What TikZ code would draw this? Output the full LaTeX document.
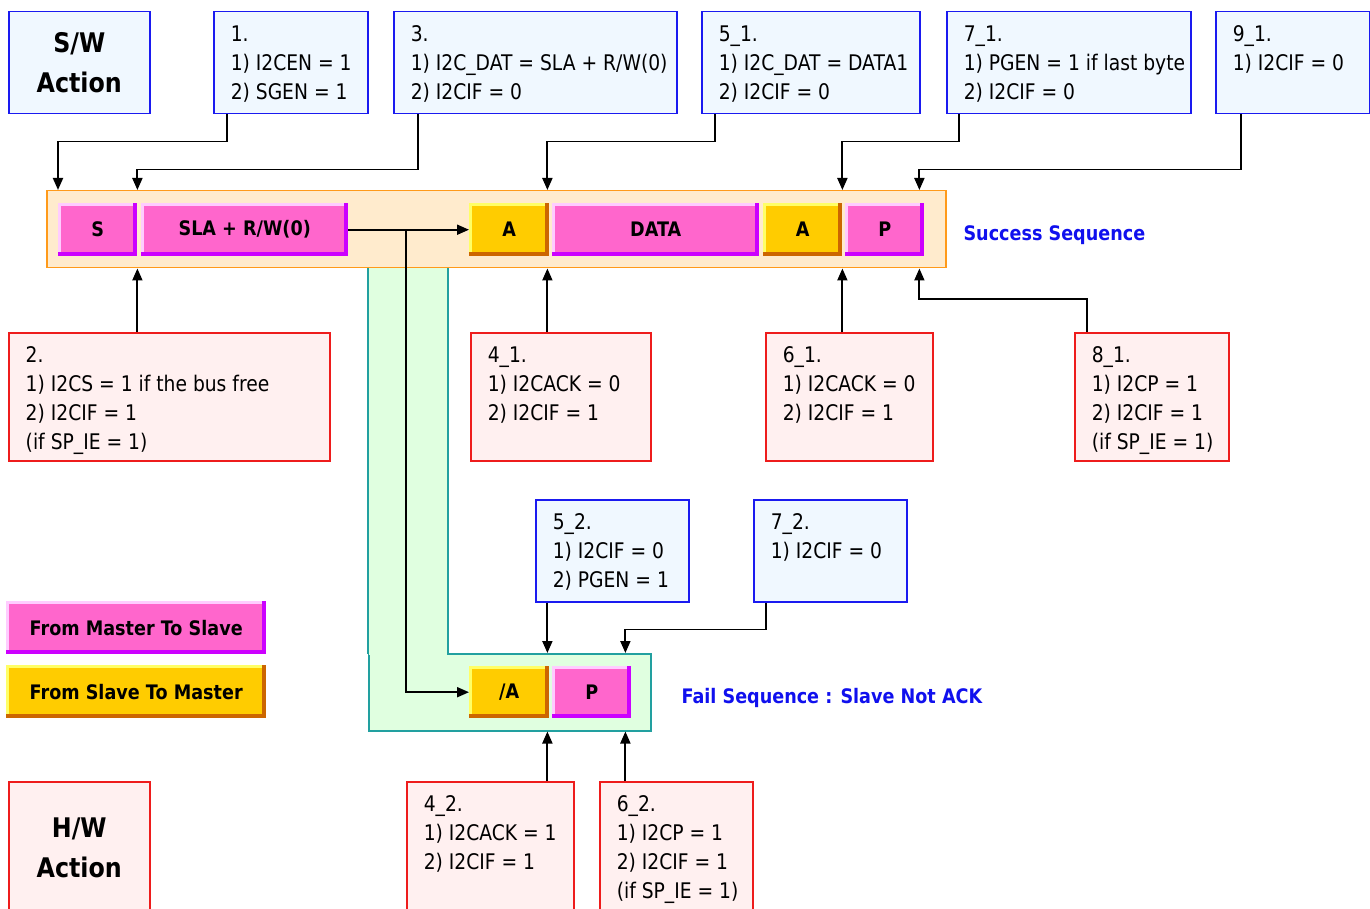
\documentclass[tikz,border=0pt]{standalone}
\usepackage{fontspec}
\setmainfont{DejaVu Sans}[FakeStretch=0.87, BoldFeatures={FakeStretch=0.88}]
\usetikzlibrary{calc,arrows.meta}
\definecolor{swline}{HTML}{1A1AF0}
\definecolor{swfill}{HTML}{F0F8FF}
\definecolor{hwline}{HTML}{EE1C1C}
\definecolor{hwfill}{HTML}{FFF0F0}
\definecolor{frline}{HTML}{FF9A1A}
\definecolor{frfill}{HTML}{FFEBCD}
\definecolor{grline}{HTML}{22A0A0}
\definecolor{grfill}{HTML}{E0FFE0}
\definecolor{pkmn}{HTML}{FF66CC}
\definecolor{pklt}{HTML}{FFCCFF}
\definecolor{pkdk}{HTML}{CC00FF}
\definecolor{ylmn}{HTML}{FFCC00}
\definecolor{yllt}{HTML}{FFFF66}
\definecolor{yldk}{HTML}{CC6600}
\definecolor{seqblue}{HTML}{1010EE}
\newcommand\tb[7]{%
  \node[#2, minimum width={#5-#3}, minimum height={#6-#4}] (#1) at (#3,#4)
  {\parbox[c][\dimexpr#6pt-#4pt\relax][t]{\dimexpr#5pt-#3pt\relax}{%
    \fontsize{21.5}{29}\selectfont\vspace*{9pt}\hspace*{17pt}%
    \begin{tabular}[t]{@{}l@{}}#7\end{tabular}}};}
\begin{document}
\begin{tikzpicture}[x=1pt,y=-1pt,
  swbox/.style={rectangle, draw=swline, fill=swfill, line width=1.5pt, inner sep=0pt, anchor=north west},
  hwbox/.style={rectangle, draw=hwline, fill=hwfill, line width=1.5pt, inner sep=0pt, anchor=north west},
  title/.style={align=center, font=\bfseries\fontsize{27}{40}\selectfont},
  pkt/.style={rectangle, anchor=north west, inner sep=0pt, fill=#1dk,
    font=\bfseries\fontsize{20}{22}\selectfont,
    path picture={
      \fill[#1lt] ([yshift=4pt]path picture bounding box.south west) rectangle ([xshift=-4pt]path picture bounding box.north east);
      \fill[#1mn] ([xshift=3pt,yshift=4pt]path picture bounding box.south west) rectangle ([xshift=-4pt,yshift=-3pt]path picture bounding box.north east);
    }},
  frame/.style={rectangle, draw=frline, fill=frfill, line width=1.5pt, inner sep=0pt, anchor=north west},
  failbox/.style={rectangle, draw=grline, fill=grfill, line width=1.5pt, inner sep=0pt, anchor=north west},
  seq/.style={anchor=west, text=seqblue, font=\bfseries\fontsize{20}{22}\selectfont},
  arr/.style={draw=black, line width=1.9pt, -{Triangle[length=12pt,width=10pt]}}
]
\useasboundingbox (0,0) rectangle (1370,909);
\clip (0,0) rectangle (1370,909);

% S/W boxes
\node[swbox, title, minimum width=141, minimum height=102] (sw) at (8,11) {S/W\\Action};
\tb{b1}{swbox}{213}{11}{367}{113}{1.\\1) I2CEN = 1\\2) SGEN = 1}
\tb{b3}{swbox}{393}{11}{676}{113}{3.\\1) I2C\_DAT = SLA + R/W(0)\\2) I2CIF = 0}
\tb{b51}{swbox}{701}{11}{919}{113}{5\_1.\\1) I2C\_DAT = DATA1\\2) I2CIF = 0}
\tb{b71}{swbox}{946}{11}{1190}{113}{7\_1.\\1) PGEN = 1 if last byte\\2) I2CIF = 0}
\tb{b91}{swbox}{1215}{11}{1369}{113}{9\_1.\\1) I2CIF = 0}

% fail region
\node[failbox, minimum width=282, minimum height=77] (fail) at (368,653) {};
\fill[grfill] (369,266) rectangle (447,655);
\draw[grline, line width=1.5pt] (368,267) -- (368,654);
\draw[grline, line width=1.5pt] (448,267) -- (448,654);

% success frame
\node[frame, minimum width=899, minimum height=77] (frame) at (46,190) {};
\node[pkt=pk, minimum width=79, minimum height=53] (S) at (58,203) {S};
\node[pkt=pk, minimum width=207, minimum height=53] (SLA) at (141,203) {SLA + R/W(0)};
\node[pkt=yl, minimum width=80, minimum height=53] (A1) at (469,203) {A};
\node[pkt=pk, minimum width=207, minimum height=53] (DATA) at (552,203) {DATA};
\node[pkt=yl, minimum width=79, minimum height=53] (A2) at (763,203) {A};
\node[pkt=pk, minimum width=79, minimum height=53] (P1) at (845,203) {P};
\node[seq] (succ) at (960,235) {Success Sequence};

% fail packets
\node[pkt=yl, minimum width=80, minimum height=52] (NA) at (469,666) {/A};
\node[pkt=pk, minimum width=79, minimum height=52] (P2) at (552,666) {P};
\node[seq] (failt) at (678,698) {Fail Sequence : Slave Not ACK};

% H/W boxes
\tb{b2}{hwbox}{8}{332}{329}{460}{2.\\1) I2CS = 1 if the bus free\\2) I2CIF = 1\\(if SP\_IE = 1)}
\tb{b41}{hwbox}{470}{332}{650}{460}{4\_1.\\1) I2CACK = 0\\2) I2CIF = 1}
\tb{b61}{hwbox}{765}{332}{932}{460}{6\_1.\\1) I2CACK = 0\\2) I2CIF = 1}
\tb{b81}{hwbox}{1074}{332}{1228}{460}{8\_1.\\1) I2CP = 1\\2) I2CIF = 1\\(if SP\_IE = 1)}
\tb{b52}{swbox}{535}{499}{688}{601}{5\_2.\\1) I2CIF = 0\\2) PGEN = 1}
\tb{b72}{swbox}{753}{499}{906}{601}{7\_2.\\1) I2CIF = 0}
\node[hwbox, title, minimum width=141, minimum height=132] (hw) at (8,781) {H/W\\Action};
\tb{b42}{hwbox}{406}{781}{573}{913}{4\_2.\\1) I2CACK = 1\\2) I2CIF = 1}
\tb{b62}{hwbox}{599}{781}{752}{913}{6\_2.\\1) I2CP = 1\\2) I2CIF = 1\\(if SP\_IE = 1)}

% legend
\node[pkt=pk, minimum width=260, minimum height=53] (lm) at (6,601) {From Master To Slave};
\node[pkt=yl, minimum width=260, minimum height=53] (ls) at (6,665) {From Slave To Master};

% connectors from S/W boxes
\draw[arr] ($(b1.south west)+(14,0)$) -- ++(0,27) -| (S.west |- frame.north);
\draw[arr] ($(b3.south west)+(25,0)$) -- ++(0,55) -| (S.east |- frame.north);
\draw[arr] ($(b51.south west)+(14,0)$) -- ++(0,27) -| ($(A1.east |- frame.north)+(-2,0)$);
\draw[arr] ($(b71.south west)+(13,0)$) -- ++(0,27) -| (A2.east |- frame.north);
\draw[arr] ($(b91.south west)+(26,0)$) -- ++(0,55) -| ($(P1.east |- frame.north)+(-5,0)$);

% connectors from H/W boxes
\draw[arr] (S.east |- b2.north) -- (S.east |- frame.south);
\draw[arr] ($(A1.east |- b41.north)+(-2,0)$) -- ($(A1.east |- frame.south)+(-2,0)$);
\draw[arr] (A2.east |- b61.north) -- (A2.east |- frame.south);
\draw[arr] ($(b81.north west)+(13,0)$) -- ++(0,-33) -| ($(P1.east |- frame.south)+(-5,0)$);

% sequence arrows
\draw[arr] (SLA.east) -- (A1.west);
\coordinate (br) at ($(SLA.east)+(58,0)$);
\draw[arr] (br) |- (NA.west);

% fail connectors
\draw[arr] ($(NA.east |- b52.south)+(-2,0)$) -- ($(NA.east |- fail.north)+(-2,0)$);
\draw[arr] ($(b72.south west)+(13,0)$) -- ++(0,27) -| ($(P2.east |- fail.north)+(-6,0)$);
\draw[arr] ($(NA.east |- b42.north)+(-2,0)$) -- ($(NA.east |- fail.south)+(-2,0)$);
\draw[arr] ($(P2.east |- b62.north)+(-6,0)$) -- ($(P2.east |- fail.south)+(-6,0)$);
\end{tikzpicture}
\end{document}
